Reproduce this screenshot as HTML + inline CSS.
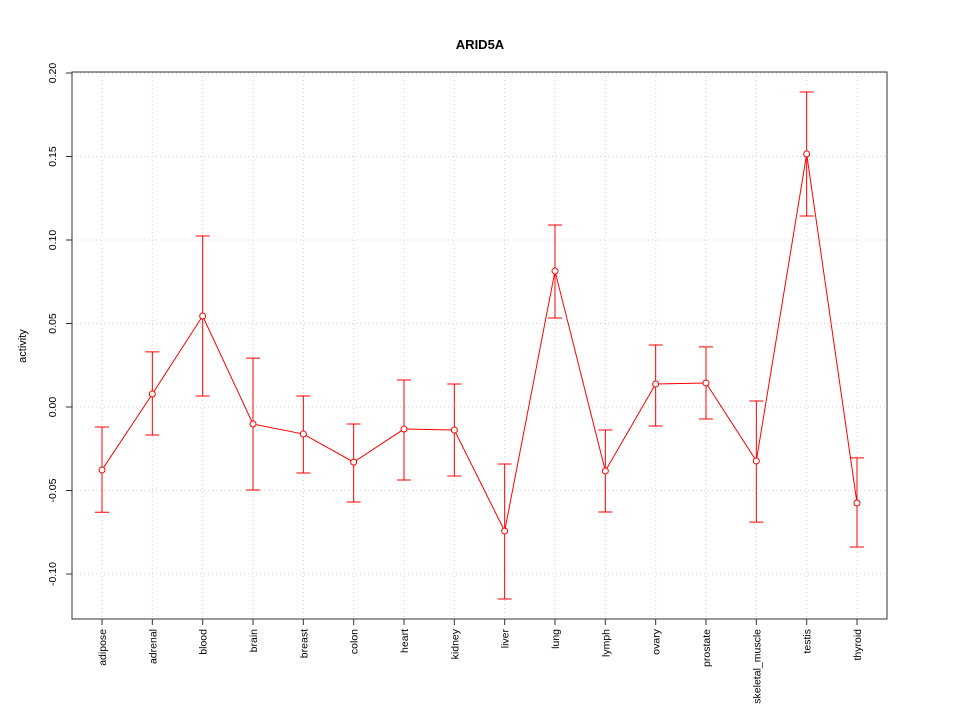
<!DOCTYPE html>
<html><head><meta charset="utf-8"><style>
body{margin:0;background:#fff;}
svg text{font-family:"Liberation Sans",sans-serif;}
</style></head><body>
<svg id="chart" width="960" height="720">
<rect width="960" height="720" fill="#fff"/>
<text x="480" y="49" text-anchor="middle" font-size="13" font-weight="bold">ARID5A</text>
<text transform="translate(26,346) rotate(-90)" text-anchor="middle" font-size="11">activity</text>
<g id="grid"></g><g id="axes"></g><g id="marks"></g>
<rect x="72" y="72" width="815" height="547" fill="none" stroke="#333"/>
</svg>
<script>
const categories=["adipose","adrenal","blood","brain","breast","colon","heart","kidney","liver","lung","lymph","ovary","prostate","skeletal_muscle","testis","thyroid"];
const values=[-0.0377,0.0078,0.0545,-0.0102,-0.0162,-0.033,-0.0132,-0.0138,-0.0743,0.0814,-0.0383,0.0138,0.0144,-0.0323,0.1515,-0.0575];
const upper=[-0.012,0.033,0.1024,0.0293,0.0066,-0.0102,0.0162,0.0138,-0.0341,0.109,-0.0138,0.0371,0.036,0.0036,0.1886,-0.0305];
const lower=[-0.063,-0.0168,0.0066,-0.0497,-0.0395,-0.0569,-0.0437,-0.0413,-0.115,0.0533,-0.0629,-0.0114,-0.0072,-0.0689,0.1144,-0.0838];
const yTicks=[-0.10,-0.05,0.00,0.05,0.10,0.15,0.20];
const yTickLabels=["-0.10","-0.05","0.00","0.05","0.10","0.15","0.20"];
const NS="http://www.w3.org/2000/svg";
function x(i){return 102+i*(755/(categories.length-1));}
function y(v){return 407-v*1670;}
function mk(tag,attrs,parent){const e=document.createElementNS(NS,tag);for(const k in attrs)e.setAttribute(k,attrs[k]);document.getElementById(parent).appendChild(e);return e;}
yTicks.forEach((t,i)=>{
  const g=mk('line',{x1:72,x2:887,y1:y(t),y2:y(t),stroke:'#d0d0d0','stroke-dasharray':'1,3'},'grid');
  
  
  const tk=mk('line',{x1:66,x2:72,y1:y(t),y2:y(t),stroke:'#333'},'axes');
  
  
  const tx=mk('text',{transform:`translate(56,${y(t)}) rotate(-90)`,'text-anchor':'middle','font-size':10.5},'axes');
  tx.textContent=yTickLabels[i];
  
  
});
categories.forEach((c,i)=>{
  const g=mk('line',{x1:x(i),x2:x(i),y1:72,y2:619,stroke:'#d0d0d0','stroke-dasharray':'1,3'},'grid');
  
  
  const tk=mk('line',{x1:x(i),x2:x(i),y1:619,y2:625,stroke:'#333'},'axes');
  
  
  const tx=mk('text',{transform:`translate(${x(i)+4},629) rotate(-90)`,'text-anchor':'end','font-size':10.5},'axes');
  tx.textContent=c;
  
  
});
const pts=values.map((v,i)=>x(i)+','+y(v)).join(' ');
const pl=mk('polyline',{points:pts,fill:'none',stroke:'#f00'},'marks');


values.forEach((v,i)=>{
  const e=mk('path',{d:`M${x(i)},${y(upper[i])}V${y(lower[i])}M${x(i)-7},${y(upper[i])}H${x(i)+7}M${x(i)-7},${y(lower[i])}H${x(i)+7}`,stroke:'#f00',fill:'none'},'marks');
  
  
  const p=mk('circle',{cx:x(i),cy:y(v),r:3,fill:'#fff',stroke:'#f00'},'marks');
  
  
});
</script>
</body></html>
